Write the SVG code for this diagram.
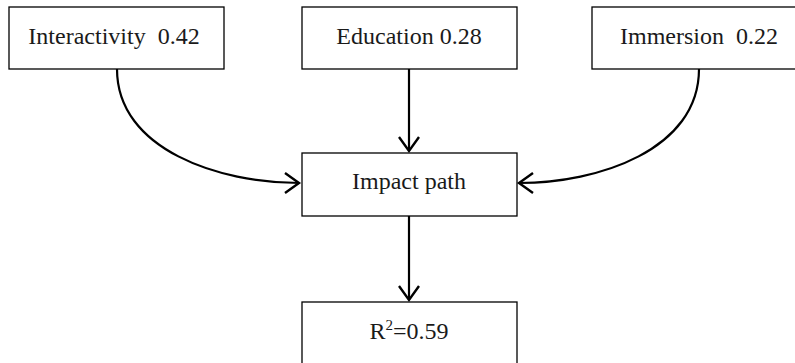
<svg xmlns="http://www.w3.org/2000/svg" width="795" height="363" viewBox="0 0 795 363">
<style>
.box{fill:#fff;stroke:#000;stroke-width:1.3}
.lbl{font-family:"Liberation Serif","Times New Roman",serif;font-size:24px;fill:#1a1a1a;text-anchor:middle}
.edge{fill:none;stroke:#000;stroke-width:2.2}
</style>
<defs>
<marker id="ah" markerWidth="20" markerHeight="24" refX="16" refY="11" orient="auto" markerUnits="userSpaceOnUse">
<path d="M2,1 L16,11 L2,21" fill="none" stroke="#000" stroke-width="2.4"/>
</marker>
</defs>
<rect width="795" height="363" fill="#fff"/>
<g id="connectors">
<path class="edge" d="M117,69 C117,150 220,183 299,183" marker-end="url(#ah)"/>
<path class="edge" d="M409,69 L409,151" marker-end="url(#ah)"/>
<path class="edge" d="M699,69 C699,150 598,183 519,183" marker-end="url(#ah)"/>
<path class="edge" d="M409,216 L409,300" marker-end="url(#ah)"/>
</g>
<g id="interactivity"><rect class="box" x="9" y="7" width="215" height="62"/><text class="lbl" x="114" y="44" xml:space="preserve">Interactivity  0.42</text></g>
<g id="education"><rect class="box" x="302" y="7" width="215" height="62"/><text class="lbl" x="409" y="44">Education 0.28</text></g>
<g id="immersion"><rect class="box" x="592" y="7" width="215" height="62"/><text class="lbl" x="699" y="44" xml:space="preserve">Immersion  0.22</text></g>
<g id="impact"><rect class="box" x="302" y="153" width="215" height="63"/><text class="lbl" x="409" y="189">Impact path</text></g>
<g id="r2"><rect class="box" x="302" y="302" width="215" height="70"/><text class="lbl" x="409" y="339">R<tspan font-size="15" dy="-9">2</tspan><tspan dy="9">=0.59</tspan></text></g>
</svg>
